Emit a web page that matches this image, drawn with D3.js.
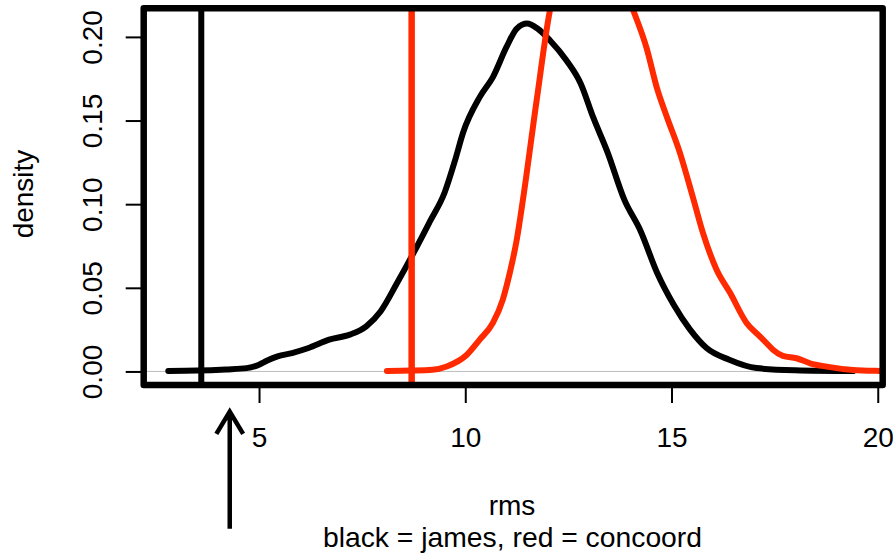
<!DOCTYPE html>
<html>
<head>
<meta charset="utf-8">
<script src="https://cdn.jsdelivr.net/npm/d3@7"></script>
<style>
  html, body { margin: 0; padding: 0; background: #fff; }
  svg { display: block; font-family: "Liberation Sans", Arial, Helvetica, sans-serif; }
</style>
</head>
<body>
<svg id="chart" width="893" height="558"></svg>
<script>
// Kernel density of rms for the two ensembles: [rms, density]
const jamesDensity = [
  [2.8, 0.0003], [3.5, 0.0005], [4.2, 0.0012], [4.7, 0.002], [5.0, 0.004],
  [5.2, 0.0065], [5.45, 0.009], [5.8, 0.011], [6.2, 0.014], [6.7, 0.019],
  [7.2, 0.022], [7.6, 0.027], [7.95, 0.036], [8.35, 0.053], [8.75, 0.071],
  [9.15, 0.09], [9.5, 0.107], [9.75, 0.126], [9.95, 0.143], [10.35, 0.164],
  [10.67, 0.176], [11.0, 0.194], [11.25, 0.205], [11.5, 0.208], [11.75, 0.205],
  [12.05, 0.198], [12.45, 0.186], [12.8, 0.172], [13.1, 0.152], [13.45, 0.131],
  [13.85, 0.103], [14.25, 0.084], [14.65, 0.059], [15.05, 0.040], [15.45, 0.025],
  [15.85, 0.014], [16.4, 0.007], [17.06, 0.002], [18.0, 0.0007], [19.4, 0.0002]
];
const concoordDensity = [
  [8.1, 0.0003], [8.7, 0.0005], [9.2, 0.001], [9.55, 0.003], [10.04, 0.010],
  [10.35, 0.019], [10.67, 0.029], [10.91, 0.043], [11.08, 0.059], [11.25, 0.079],
  [11.4, 0.103], [11.73, 0.162], [12.07, 0.218], [12.4, 0.24], [12.8, 0.252],
  [13.2, 0.256], [13.6, 0.246], [14.04, 0.218], [14.4, 0.193], [14.64, 0.170],
  [14.89, 0.152], [15.2, 0.131], [15.52, 0.104], [15.76, 0.083], [16.09, 0.061],
  [16.42, 0.047], [16.82, 0.029], [17.14, 0.021], [17.3, 0.017], [17.46, 0.013],
  [17.7, 0.0093], [18.03, 0.0079], [18.36, 0.0049], [18.76, 0.0029], [19.4, 0.0009],
  [20.05, 0.0003], [20.6, 0.0001]
];
// Reference rms values marked with vertical lines
const jamesRef = 3.6;
const concoordRef = 8.7;
// Arrow under the axis: x position and vertical extent in data units
const arrowX = 4.29;
const arrowY = [-0.094, -0.024];

const xTicks = [5, 10, 15, 20];
const yTicks = [0.00, 0.05, 0.10, 0.15, 0.20];
const xLabel = "rms";
const subLabel = "black = james, red = concoord";
const yLabel = "density";

const RED = "#ff2a00";
const plot = { left: 143.7, right: 882.7, top: 8.3, bottom: 385 };

const x = d3.scaleLinear().domain([2.204, 20.12]).range([plot.left, plot.right]);
const y = d3.scaleLinear().domain([-0.0081, 0.2171]).range([plot.bottom, plot.top]);

const svg = d3.select("#chart");

svg.append("defs").append("clipPath").attr("id", "plotClip")
  .append("rect")
  .attr("x", plot.left).attr("y", plot.top)
  .attr("width", plot.right - plot.left).attr("height", plot.bottom - plot.top);

const inner = svg.append("g").attr("clip-path", "url(#plotClip)");

// zero baseline
inner.append("line")
  .attr("x1", plot.left).attr("x2", plot.right)
  .attr("y1", y(0)).attr("y2", y(0))
  .attr("stroke", "#bdbdbd").attr("stroke-width", 1);

const line = d3.line()
  .x(d => x(d[0])).y(d => y(d[1]))
  .curve(d3.curveMonotoneX);

inner.append("path").datum(jamesDensity)
  .attr("d", line).attr("fill", "none")
  .attr("stroke", "#000").attr("stroke-width", 6)
  .attr("stroke-linejoin", "round").attr("stroke-linecap", "round");

inner.append("line")
  .attr("x1", x(jamesRef)).attr("x2", x(jamesRef))
  .attr("y1", plot.top).attr("y2", plot.bottom)
  .attr("stroke", "#000").attr("stroke-width", 6);

inner.append("path").datum(concoordDensity)
  .attr("d", line).attr("fill", "none")
  .attr("stroke", RED).attr("stroke-width", 6)
  .attr("stroke-linejoin", "round").attr("stroke-linecap", "round");

inner.append("line")
  .attr("x1", x(concoordRef)).attr("x2", x(concoordRef))
  .attr("y1", plot.top).attr("y2", plot.bottom)
  .attr("stroke", RED).attr("stroke-width", 6.5);

// frame
svg.append("rect")
  .attr("x", plot.left).attr("y", plot.top)
  .attr("width", plot.right - plot.left).attr("height", plot.bottom - plot.top)
  .attr("fill", "none").attr("stroke", "#000").attr("stroke-width", 6.5)
  .attr("stroke-linejoin", "round");

// x axis
const xAxis = d3.axisBottom(x).tickValues(xTicks).tickSize(18).tickPadding(0)
  .tickFormat(d3.format("d"));
const gx = svg.append("g").attr("transform", `translate(0,${plot.bottom})`).call(xAxis);
gx.select(".domain").remove();
gx.selectAll(".tick line").attr("stroke", "#000").attr("stroke-width", 2);
gx.selectAll(".tick text")
  .attr("y", 62).attr("dy", null)
  .attr("font-size", 28).attr("font-family", "Liberation Sans, Arial, sans-serif")
  .attr("fill", "#000");

// y axis with rotated labels
const yAxis = d3.axisLeft(y).tickValues(yTicks).tickSize(18).tickPadding(0)
  .tickFormat(d3.format(".2f"));
const gy = svg.append("g").attr("transform", `translate(${plot.left},0)`).call(yAxis);
gy.select(".domain").remove();
gy.selectAll(".tick line").attr("stroke", "#000").attr("stroke-width", 2);
gy.selectAll(".tick text")
  .attr("x", null).attr("dy", null)
  .attr("text-anchor", "middle")
  .attr("transform", "translate(-41.7,0) rotate(-90)")
  .attr("font-size", 28).attr("font-family", "Liberation Sans, Arial, sans-serif")
  .attr("fill", "#000");

// axis titles
svg.append("text")
  .attr("x", 512).attr("y", 515)
  .attr("text-anchor", "middle").attr("font-size", 28).attr("fill", "#000")
  .text(xLabel);
svg.append("text")
  .attr("x", 512.5).attr("y", 547)
  .attr("text-anchor", "middle").attr("font-size", 28.3).attr("fill", "#000")
  .text(subLabel);
svg.append("text")
  .attr("transform", "translate(33,194) rotate(-90)")
  .attr("text-anchor", "middle").attr("font-size", 28).attr("fill", "#000")
  .text(yLabel);

// arrow pointing up at the axis
const ax = x(arrowX), yTail = y(arrowY[0]), yTip = y(arrowY[1]);
const headLen = 26, headAng = 31 * Math.PI / 180;
svg.append("path")
  .attr("d", `M${ax},${yTail}L${ax},${yTip}` +
    `M${ax - headLen * Math.sin(headAng)},${yTip + headLen * Math.cos(headAng)}` +
    `L${ax},${yTip}L${ax + headLen * Math.sin(headAng)},${yTip + headLen * Math.cos(headAng)}`)
  .attr("fill", "none").attr("stroke", "#000").attr("stroke-width", 4.5)
  .attr("stroke-linejoin", "miter").attr("stroke-linecap", "butt");
</script>
</body>
</html>
